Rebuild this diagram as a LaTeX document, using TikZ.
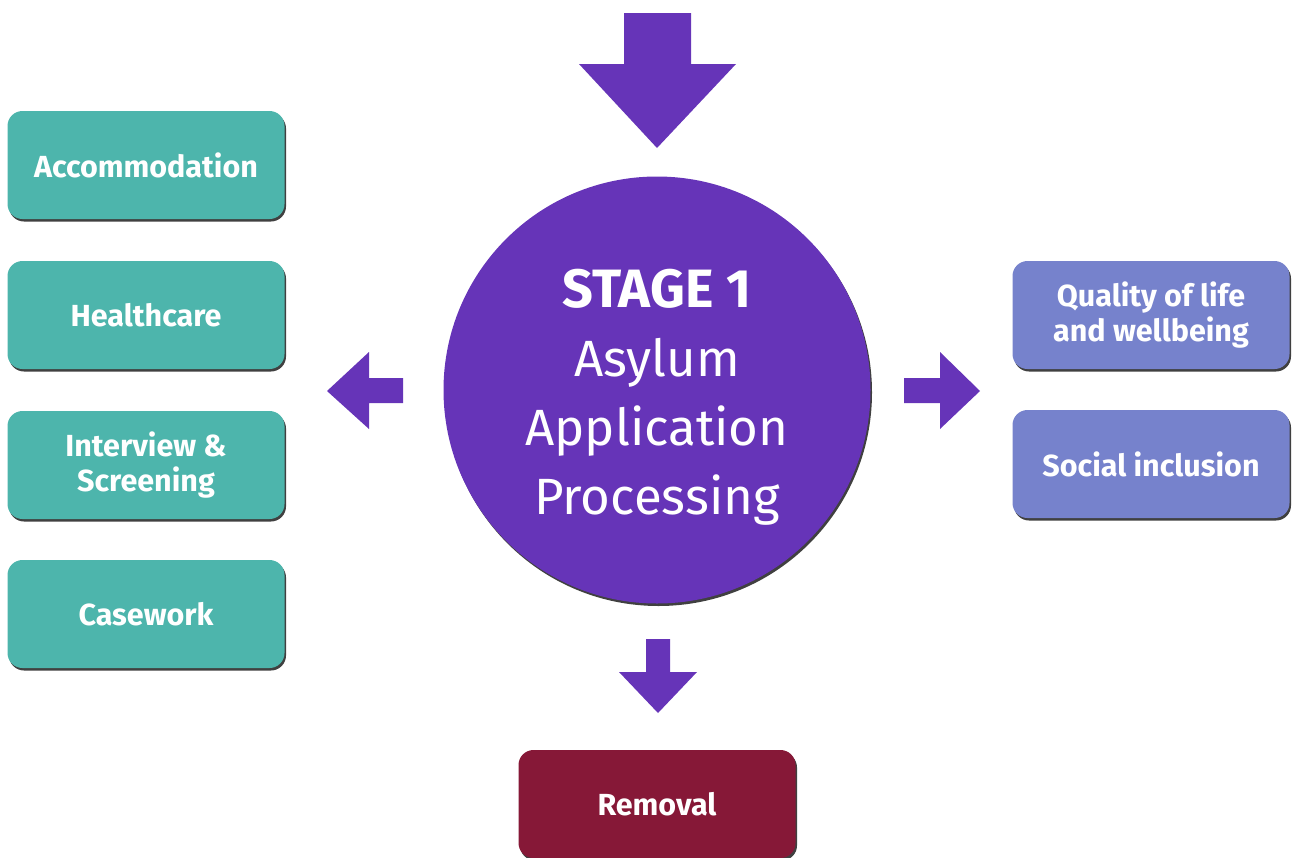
\documentclass[tikz,border=0pt]{standalone}
\usepackage{fontspec}
\setmainfont{Fira Sans}
\usetikzlibrary{shadows}
\definecolor{teal1}{HTML}{4DB5AC}
\definecolor{purp}{HTML}{6634B8}
\definecolor{lav}{HTML}{7682CC}
\definecolor{maroon1}{HTML}{861837}
\tikzset{
  bx/.style={rounded corners=15pt, minimum width=277pt, minimum height=108pt,
    text=white, align=center, font=\bfseries\fontsize{30.5}{35}\selectfont,
    inner sep=0pt,
    drop shadow={shadow xshift=1.5pt, shadow yshift=-2.5pt, fill=black, opacity=0.75}},
  tealbox/.style={bx, fill=teal1},
  lavbox/.style={bx, fill=lav},
  redbox/.style={bx, fill=maroon1},
  bigarrow/.style={fill=purp, draw=none},
  hub/.style={circle, fill=purp, minimum size=427pt, inner sep=0pt,
    drop shadow={shadow xshift=1.5pt, shadow yshift=-2.5pt, fill=black, opacity=0.75}},
  hubtext/.style={text=white, align=center, inner sep=0pt, font=\fontsize{51}{69}\selectfont}
}
\begin{document}
\begin{tikzpicture}[x=1pt,y=-1pt]
\useasboundingbox (0,0) rectangle (1292,857);
% boxes
\node[tealbox] (acc) at (146,165) {Accommodation};
\node[tealbox] (hea) at (146,315) {Healthcare};
\node[tealbox] (int) at (146,465) {Interview \&\\Screening};
\node[tealbox] (cas) at (146,614) {Casework};
\node[lavbox] (qol) at (1151,315) {Quality of life\\and wellbeing};
\node[lavbox] (soc) at (1151,464) {Social inclusion};
\node[redbox] (rem) at (657,804) {Removal};
% hub
\node[hub] (hub) at (657,390) {};
\node[hubtext] (hubt) at (657,397) {{\bfseries\fontsize{54}{69}\selectfont STAGE 1}\\Asylum\\Application\\Processing};
% arrows
\fill[bigarrow] (624,13) -- (691,13) -- (691,64) -- (736,64) -- (657,148) -- (579,64) -- (624,64) -- cycle;
\fill[bigarrow] (403,378) -- (369,378) -- (369,352) -- (327,391) -- (369,429) -- (369,403) -- (403,403) -- cycle;
\fill[bigarrow] (904,378) -- (940,378) -- (940,352) -- (980,391) -- (940,429) -- (940,403) -- (904,403) -- cycle;
\fill[bigarrow] (646,639) -- (670,639) -- (670,672) -- (697,672) -- (658,713) -- (619,672) -- (646,672) -- cycle;
\end{tikzpicture}
\end{document}
